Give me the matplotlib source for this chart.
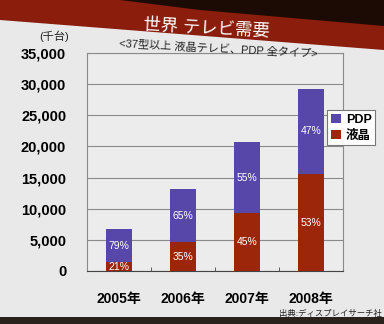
import matplotlib.pyplot as plt
from matplotlib.patches import Polygon, Rectangle

years = ["2005年", "2006年", "2007年", "2008年"]
lcd = [1400, 4600, 9300, 15500]      # 液晶 (千台)
pdp = [5300, 8500, 11400, 13800]     # PDP (千台)
lcd_pct = ["21%", "35%", "45%", "53%"]
pdp_pct = ["79%", "65%", "55%", "47%"]
yticks = [0, 5000, 10000, 15000, 20000, 25000, 30000, 35000]

fonts = ["Liberation Sans", "Noto Sans CJK JP", "DejaVu Sans"]
plt.rcParams["font.family"] = fonts

W, H = 384, 324
fig = plt.figure(figsize=(W / 100, H / 100), dpi=100)
fig.patch.set_facecolor("#e9e9e9")

def px(x, y):
    return (x / W, 1 - y / H)

# slide header: dark background + red band
fig.patches.append(Polygon([px(0, 0), px(384, 0), px(384, 50), px(0, 20)],
                           closed=True, transform=fig.transFigure,
                           facecolor="#8a1d0b", edgecolor="none", zorder=0))
fig.patches.append(Polygon([px(120, 0), px(384, 0), px(384, 26), px(200, 10)],
                           closed=True, transform=fig.transFigure,
                           facecolor="#1c0b05", edgecolor="none", zorder=0))
fig.patches.append(Rectangle(px(0, 324), 1, 7 / H, transform=fig.transFigure,
                             facecolor="#2b211c", edgecolor="none", zorder=0))

fig.text(*px(206, 28), "世界 テレビ需要", color="white", fontsize=12.5,
         ha="center", va="center", rotation=-3)
fig.text(*px(218, 49), "<37型以上 液晶テレビ、PDP 全タイプ>", color="#222222",
         fontsize=8, ha="center", va="center", rotation=-3)
fig.text(*px(54, 36), "(千台)", color="#222222", fontsize=8,
         ha="center", va="center")
fig.text(*px(330, 314), "出典:ディスプレイサーチ社", color="#222222",
         fontsize=6, ha="center", va="center")

l, r, t, b = 87, 343, 53, 271
ax = fig.add_axes([l / W, 1 - b / H, (r - l) / W, (b - t) / H])
ax.set_facecolor("#ececec")

x = range(len(years))
bl = ax.bar(x, lcd, width=0.42, color="#9c2609", label="液晶", zorder=3)
bp = ax.bar(x, pdp, width=0.42, bottom=lcd, color="#5747a8", label="PDP", zorder=3)
ax.bar_label(bl, labels=lcd_pct, label_type="center", color="white", fontsize=7.5)
ax.bar_label(bp, labels=pdp_pct, label_type="center", color="white", fontsize=7.5)

ax.set_xlim(-0.5, 3.5)
ax.set_ylim(0, 35000)
ax.set_yticks(yticks)
ax.set_yticklabels([f"{v:,}" for v in yticks], fontsize=10.5, fontweight="bold")
ax.set_xticks(list(x))
ax.set_xticklabels(years, fontsize=10, fontweight="bold")
ax.set_xticks([0.5, 1.5, 2.5], minor=True)
ax.tick_params(axis="x", which="major", length=0, pad=15)
ax.tick_params(axis="x", which="minor", direction="in", length=3, color="#444444")
ax.tick_params(axis="y", length=0, pad=15)
ax.grid(axis="y", color="#8a8a8a", linewidth=0.8, zorder=1)
for s in ax.spines.values():
    s.set_color("#8a8a8a")
    s.set_linewidth(0.8)
ax.spines["bottom"].set_color("#444444")

h, lab = ax.get_legend_handles_labels()
leg = ax.legend(h[::-1], lab[::-1], loc="upper left",
                bbox_to_anchor=px(327, 110), bbox_transform=fig.transFigure,
                prop={"family": fonts, "weight": "bold", "size": 9},
                fancybox=False, edgecolor="#777777", framealpha=1,
                handlelength=0.8, handleheight=0.8, handletextpad=0.4,
                borderpad=0.3, labelspacing=0.3, borderaxespad=0)
leg.get_frame().set_linewidth(0.8)

fig.savefig("out.png", dpi=100, facecolor=fig.get_facecolor())
